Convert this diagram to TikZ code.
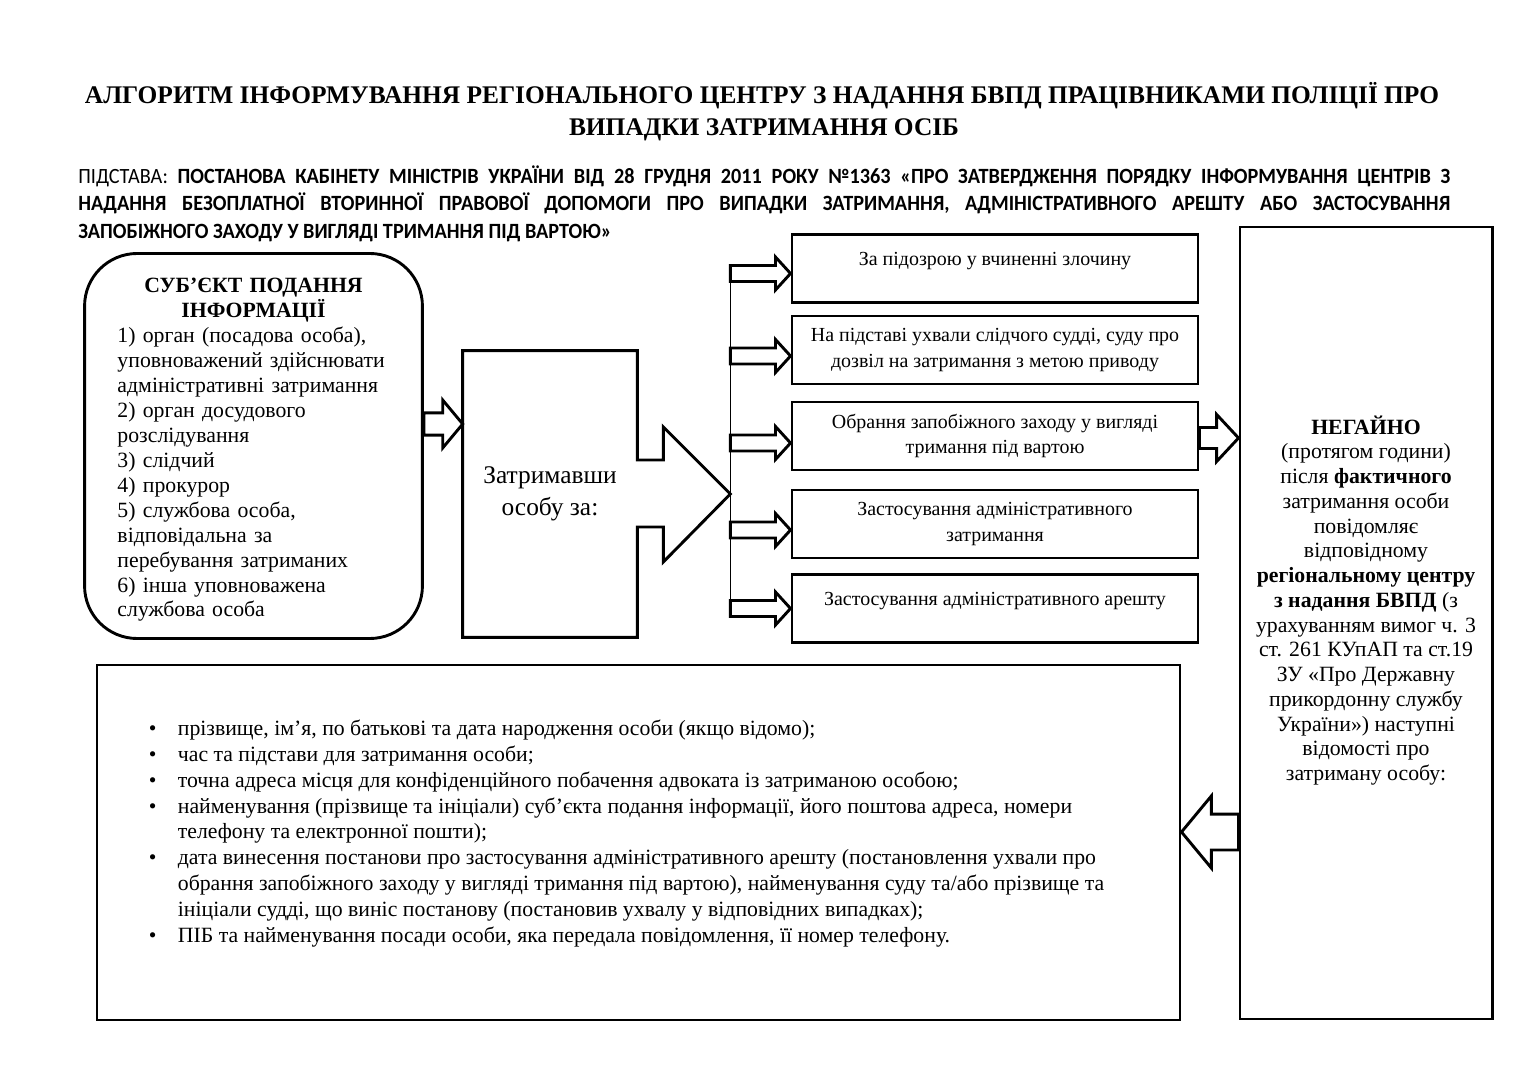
\documentclass[tikz,border=0pt]{standalone}
\usepackage{fontspec}
\setmainfont{Liberation Serif}
\newfontfamily\hdrfont[FakeStretch=0.93]{Carlito}
\usetikzlibrary{calc,positioning}

% tail, tip, shaft half width, head half width, head length
\newcommand{\blockarrow}[5]{%
  \coordinate (ah) at ($(#2)!#5!(#1)$);
  \draw[barrow] ($(#1)!#3!90:(#2)$) -- ($(ah)!#3!90:(#2)$) -- ($(ah)!#4!90:(#2)$) -- (#2)
    -- ($(ah)!#4!-90:(#2)$) -- ($(ah)!#3!-90:(#2)$) -- ($(#1)!#3!-90:(#2)$) -- cycle;
}

\begin{document}
\begin{tikzpicture}[x=0.5514pt, y=-0.5514pt]
        \tikzstyle{box} = [draw, line width=1.6pt, rectangle, inner sep=0pt]
        \tikzstyle{rbox} = [box, minimum width=223.9pt, minimum height=37.5pt, align=center, font=\fontsize{11}{14.3}\selectfont]
        \tikzstyle{barrow} = [draw, fill=white, line width=1.6pt, line join=miter]
        \tikzstyle{bus} = [line width=0.7pt]
        \tikzstyle{ttl} = [font=\fontsize{14}{17.6}\selectfont\bfseries, text height=9.5pt, text depth=0pt, inner sep=0pt]
    \fill[white] (0,0) rectangle (1527,1080);
    \useasboundingbox (0,0) rectangle (1527,1080);

    \node[ttl] (title1) at (762,95) {АЛГОРИТМ ІНФОРМУВАННЯ РЕГІОНАЛЬНОГО ЦЕНТРУ З НАДАННЯ БВПД ПРАЦІВНИКАМИ ПОЛІЦІЇ ПРО};
    \node[ttl] (title2) at (764,127) {ВИПАДКИ ЗАТРИМАННЯ ОСІБ};

    \node[anchor=north west, text width=756.5pt, align=justify, inner sep=0pt,
          font=\hdrfont\fontsize{12}{15.4}\selectfont] (basis) at (78,165)
    {\tolerance=10000\hyphenpenalty=10000 ПІДСТАВА: \textbf{ПОСТАНОВА КАБІНЕТУ МІНІСТРІВ УКРАЇНИ ВІД 28 ГРУДНЯ 2011 РОКУ №1363 «ПРО ЗАТВЕРДЖЕННЯ ПОРЯДКУ ІНФОРМУВАННЯ ЦЕНТРІВ З\linebreak НАДАННЯ БЕЗОПЛАТНОЇ ВТОРИННОЇ ПРАВОВОЇ ДОПОМОГИ ПРО ВИПАДКИ ЗАТРИМАННЯ, АДМІНІСТРАТИВНОГО АРЕШТУ АБО ЗАСТОСУВАННЯ\linebreak ЗАПОБІЖНОГО ЗАХОДУ У ВИГЛЯДІ ТРИМАННЯ ПІД ВАРТОЮ»}};

    \node[box, rounded corners=29pt, minimum width=186.3pt, minimum height=212.3pt] (subj) at (253.5,446) {};
    \node[text width=150pt, align=left, font=\fontsize{12}{13.75}\selectfont] (subjt) at (253.5,450)
    {\makebox[150pt]{\textbf{СУБ’ЄКТ ПОДАННЯ}}\\ \makebox[150pt]{\textbf{ІНФОРМАЦІЇ}}\\ 1) орган (посадова особа),\\
     уповноважений здійснювати\\ адміністративні затримання\\ 2) орган досудового\\ розслідування\\
     3) слідчий\\ 4) прокурор\\ 5) службова особа,\\ відповідальна за\\ перебування затриманих\\
     6) інша уповноважена\\ службова особа};

    \node[minimum width=95.9pt, minimum height=157.7pt, align=center,
          font=\fontsize{14}{17.6}\selectfont] (det) at (550,494) {Затримавши\\ особу за:};
    \coordinate (tip) at ($(det.east)+(93,0)$);
    \draw[box] (det.north west) -- (det.north east) -- ($(det.east)+(0,-34)$) -- ($(det.east)+(26,-34)$)
        -- ($(det.east)+(26,-67)$) -- (tip) -- ($(det.east)+(26,68)$) -- ($(det.east)+(26,33)$)
        -- ($(det.east)+(0,33)$) -- (det.south east) -- (det.south west) -- cycle;

    \node[rbox, text height=8pt, text depth=10.8pt] (b1) at (995,268.5) {За підозрою у вчиненні злочину};
    \node[rbox] (b2) at (995,350) {На підставі ухвали слідчого судді, суду про\\ дозвіл на затримання з метою приводу};
    \node[rbox] (b3) at (995,436) {Обрання запобіжного заходу у вигляді\\ тримання під вартою};
    \node[rbox] (b4) at (995,524) {Застосування адміністративного\\ затримання};
    \node[rbox, text height=8pt, text depth=10.8pt] (b5) at (995,608.5) {Застосування адміністративного арешту};

    \node[box, minimum width=139pt, minimum height=436.7pt] (col) at (1366,623) {};
    \node[align=center, font=\fontsize{12}{13.65}\selectfont] (colt) at (1366,600.5)
    {\textbf{НЕГАЙНО}\\ (протягом години)\\ після \textbf{фактичного}\\ затримання особи\\ повідомляє\\
     відповідному\\ \textbf{регіональному центру}\\ \textbf{з надання БВПД} (з\\ урахуванням вимог ч. 3\\
     ст. 261 КУпАП та ст.19\\ ЗУ «Про Державну\\ прикордонну службу\\ України») наступні\\
     відомості про\\ затриману особу:};

    \node[box, minimum width=597.2pt, minimum height=195.7pt] (list) at (638.5,842.5) {};
    \node[anchor=west, align=left, inner sep=0pt, font=\fontsize{12}{14.3}\selectfont] (items)
        at ($(list.west)+(53,-9)$)
    {\makebox[16pt][l]{\textbullet}прізвище, ім’я, по батькові та дата народження особи (якщо відомо);\\
     \makebox[16pt][l]{\textbullet}час та підстави для затримання особи;\\
     \makebox[16pt][l]{\textbullet}точна адреса місця для конфіденційного побачення адвоката із затриманою особою;\\
     \makebox[16pt][l]{\textbullet}найменування (прізвище та ініціали) суб’єкта подання інформації, його поштова адреса, номери\\
     \hspace*{16pt}телефону та електронної пошти);\\
     \makebox[16pt][l]{\textbullet}дата винесення постанови про застосування адміністративного арешту (постановлення ухвали про\\
     \hspace*{16pt}обрання запобіжного заходу у вигляді тримання під вартою), найменування суду та/або прізвище та\\
     \hspace*{16pt}ініціали судді, що виніс постанову (постановив ухвалу у відповідних випадках);\\
     \makebox[16pt][l]{\textbullet}ПІБ та найменування посади особи, яка передала повідомлення, її номер телефону.};

    % block arrows
    \coordinate (sa) at ($(subj.east)+(0,-22)$);
    \coordinate (sb) at (det.west |- sa);
    \blockarrow{sa}{sb}{6.1pt}{13.2pt}{11pt}
    \foreach \b/\dy in {b1/5,b2/6,b3/7,b4/6,b5/0}{
      \coordinate (t\b) at ($(\b.west)+(0,\dy)$);
      \coordinate (s\b) at (tip |- t\b);
      \blockarrow{s\b}{t\b}{4.4pt}{9.1pt}{8.3pt}
    }
    \draw[bus] ($(sb1)+(0,-8)$) -- ($(sb5)+(0,8)$);
    \coordinate (ca) at ($(b3.east)+(0,2)$);
    \coordinate (cb) at (col.west |- ca);
    \blockarrow{ca}{cb}{5.8pt}{13pt}{12.1pt}
    \coordinate (la) at ($(col.west)+(0,209)$);
    \coordinate (lb) at (list.east |- la);
    \blockarrow{la}{lb}{9.9pt}{19.9pt}{16.5pt}

  \end{tikzpicture}
\end{document}
